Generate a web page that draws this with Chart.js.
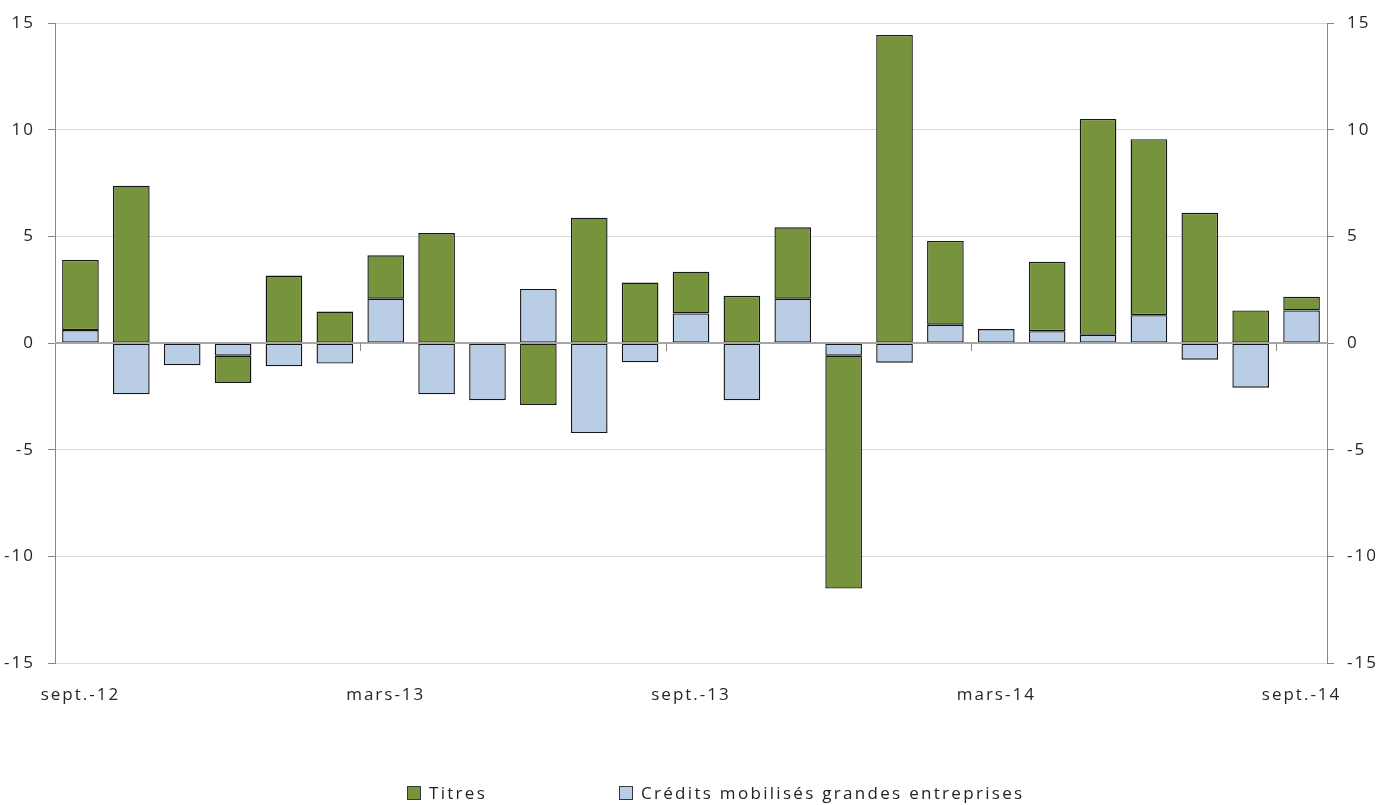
<!DOCTYPE html>
<html>
<head>
<meta charset="utf-8">
<script src="https://cdn.jsdelivr.net/npm/chart.js"></script>
<style>
  body { margin: 0; background: #fff; }
  #wrap { position: relative; width: 1377px; height: 805px; }
  #legend .item {
    position: absolute; top: 781px;
    font: 17px "Open Sans", sans-serif; letter-spacing: 2.3px; color: #222;
    display: flex; align-items: center; white-space: nowrap;
  }
  #legend .box { width: 12px; height: 12px; border: 1px solid #3a3a3a; margin-right: 8px; }
</style>
</head>
<body>
<div id="wrap">
  <canvas id="flowChart" width="1377" height="805"></canvas>
  <div id="legend"></div>
</div>
<script>
const months = ['sept.-12', 'oct.-12', 'nov.-12', 'déc.-12', 'janv.-13', 'févr.-13', 'mars-13', 'avr.-13',
    'mai-13', 'juin-13', 'juil.-13', 'août-13', 'sept.-13', 'oct.-13', 'nov.-13', 'déc.-13',
    'janv.-14', 'févr.-14', 'mars-14', 'avr.-14', 'mai-14', 'juin-14', 'juil.-14', 'août-14', 'sept.-14']

const titres = [3.29, 7.38, 0, -1.28, 3.17, 1.48, 2.04, 5.16, 0, -2.90, 5.88, 2.84, 1.96,
    2.22, 3.35, -10.92, 14.45, 3.93, 0, 3.25, 10.12, 8.25, 6.11, 1.53, 0.64]

const credits = [0.61, -2.40, -1.04, -0.59, -1.09, -0.96, 2.08, -2.40, -2.68, 2.54, -4.22, -0.90, 1.39,
    -2.68, 2.08, -0.59, -0.92, 0.86, 0.66, 0.56, 0.39, 1.31, -0.78, -2.09, 1.53]

const yTicks = [-15, -10, -5, 0, 5, 10, 15]

const green = '#77933C'
const blue = '#B9CDE5'
const edge = '#151515'
const textColor = '#262626'
const axisColor = '#868686'
const tickFont = { family: 'Open Sans', size: 17 }

// wider text like the spreadsheet font
const letterSpacing = {
    id: 'letterSpacing',
    beforeUpdate(chart) { chart.ctx.letterSpacing = '2px' },
    beforeDraw(chart) { chart.ctx.letterSpacing = '2px' }
}

// horizontal axis at zero, drawn over the bars, with a tick every 6 months
const zeroAxis = {
    id: 'zeroAxis',
    afterDatasetsDraw(chart) {
        const { ctx, chartArea, scales: { x, y } } = chart
        const y0 = Math.round(y.getPixelForValue(0))
        ctx.save()
        ctx.strokeStyle = '#A6A6A6'
        ctx.lineWidth = 2
        ctx.beginPath()
        ctx.moveTo(chartArea.left, y0)
        ctx.lineTo(chartArea.right, y0)
        ctx.stroke()
        ctx.strokeStyle = axisColor
        ctx.lineWidth = 1
        for (let i = 6; i < months.length; i += 6) {
            const xb = Math.round((x.getPixelForValue(i - 1) + x.getPixelForValue(i)) / 2) + 0.5
            ctx.beginPath()
            ctx.moveTo(xb, y0)
            ctx.lineTo(xb, y0 + 8)
            ctx.stroke()
        }
        ctx.restore()
    }
}

const sideAxis = (position, width) => ({
    position: position,
    stacked: true,
    min: -15,
    max: 15,
    afterBuildTicks: (scale) => { scale.ticks = yTicks.map(v => ({ value: v })) },
    ticks: { color: textColor, font: tickFont, padding: 13 },
    grid: {
        drawOnChartArea: position === 'left',
        color: '#D9D9D9',
        tickColor: axisColor,
        tickLength: 7
    },
    border: { color: axisColor },
    afterFit: (scale) => { scale.width = width }
})

const barStyle = {
    borderColor: edge,
    borderWidth: 1.4,
    borderSkipped: false,
    yAxisID: 'y'
}

const flowChart = new Chart(document.getElementById('flowChart'), {
    type: 'bar',
    data: {
        labels: months,
        datasets: [
            { label: 'Crédits mobilisés grandes entreprises', data: credits, backgroundColor: blue, ...barStyle },
            { label: 'Titres', data: titres, backgroundColor: green, ...barStyle }
        ]
    },
    options: {
        responsive: false,
        animation: false,
        categoryPercentage: 1,
        barPercentage: 0.72,
        layout: { padding: { top: 21, bottom: 100, left: 0, right: 0 } },
        plugins: {
            legend: { display: false },
            tooltip: { enabled: false }
        },
        scales: {
            x: {
                stacked: true,
                grid: { display: false, drawTicks: false },
                border: { display: false },
                ticks: {
                    color: textColor,
                    font: tickFont,
                    autoSkip: false,
                    maxRotation: 0,
                    padding: 22,
                    callback: (value, index) => index % 6 === 0 ? months[index] : ''
                },
                afterFit: (scale) => { scale.height = 42 }
            },
            y: sideAxis('left', 55),
            y2: sideAxis('right', 50)
        }
    },
    plugins: [letterSpacing, zeroAxis]
})

// legend under the chart, Titres first
const legendItems = [
    { text: 'Titres', color: green, left: 407 },
    { text: 'Crédits mobilisés grandes entreprises', color: blue, left: 619 }
]
document.getElementById('legend').innerHTML = legendItems.map(item =>
    `<div class="item" style="left:${item.left}px">
        <span class="box" style="background:${item.color}"></span>${item.text}
    </div>`
).join('')
</script>
</body>
</html>
